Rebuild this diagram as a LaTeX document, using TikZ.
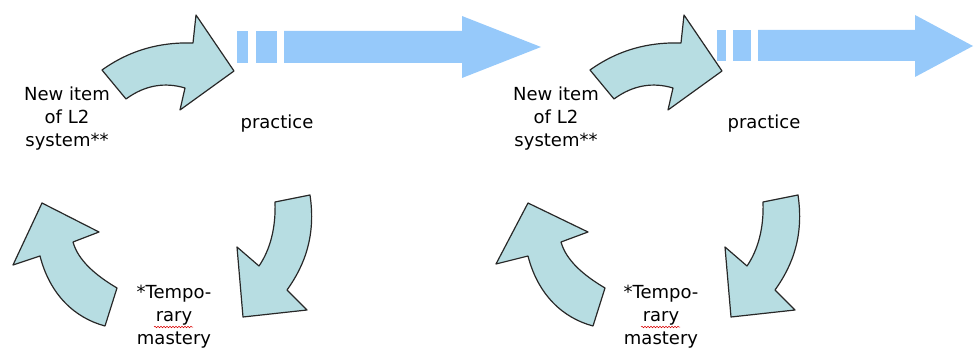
\documentclass[tikz,border=0pt]{standalone}
\usepackage{fontspec}
\setmainfont{DejaVu Sans}
\usetikzlibrary{decorations.pathmorphing}

\definecolor{curlfill}{RGB}{183,221,226}
\definecolor{curlline}{RGB}{40,40,40}
\definecolor{flowblue}{RGB}{150,201,250}

\begin{document}
\begin{tikzpicture}[x=1pt,y=-1pt,
    curl/.style={fill=curlfill,draw=curlline,line width=1.2pt,line join=round},
    flow/.style={fill=flowblue},
    squiggle/.style={draw=red!85!black,line width=0.5pt,decorate,
      decoration={snake,amplitude=0.8pt,segment length=3pt}}]

      \useasboundingbox (0,0) rectangle (975,350);

      % first cycle
      \begin{scope}
        \fill[flow] (237,31) rectangle (248,63);
        \fill[flow] (256,31) rectangle (277,63);
        \fill[flow] (284,31) -- (462,31) -- (462,16) -- (541,47) -- (462,78)
          -- (462,63) -- (284,63) -- cycle;

        \draw[curl] (102,70) .. controls (130,50) and (160,42) .. (193,43)
          -- (196,15) -- (234,71) -- (180,110) -- (185,88)
          .. controls (165,82) and (145,85) .. (126,99) -- cycle;
        \draw[curl] (105,326) .. controls (75,318) and (50,295) .. (40,256)
          -- (13,265) -- (42,203) -- (99,232) -- (73,242)
          .. controls (78,260) and (95,275) .. (117,288) -- cycle;
        \draw[curl] (275,202) -- (310,195)
          .. controls (316,235) and (305,265) .. (287,290)
          -- (307,310) -- (243,317) -- (237,247) -- (259,266)
          .. controls (270,250) and (276,228) .. (275,202) -- cycle;
      \end{scope}

      % second cycle
      \begin{scope}
        \fill[flow] (717,30) rectangle (726,61);
        \fill[flow] (733,30) rectangle (751,61);
        \fill[flow] (758,30) -- (915,30) -- (915,15) -- (973,46) -- (915,77)
          -- (915,61) -- (758,61) -- cycle;
      \end{scope}

      \begin{scope}[shift={(488,0)}]
        \draw[curl] (102,70) .. controls (130,50) and (160,42) .. (193,43)
          -- (196,15) -- (234,71) -- (180,110) -- (185,88)
          .. controls (165,82) and (145,85) .. (126,99) -- cycle;
        \draw[curl] (105,326) .. controls (75,318) and (50,295) .. (40,256)
          -- (8,264) -- (40,203) -- (100,232) -- (73,242)
          .. controls (78,260) and (95,275) .. (117,288) -- cycle;
        \draw[curl] (275,202) -- (310,195)
          .. controls (316,235) and (305,265) .. (287,290)
          -- (307,310) -- (243,317) -- (237,247) -- (259,266)
          .. controls (270,250) and (276,228) .. (275,202) -- cycle;
      \end{scope}

      \begin{scope}[every node/.style={align=center,inner sep=0pt,
          font=\fontsize{18}{23}\selectfont}]
        \node (new1)  at (67,119)  {New item\\of L2\\system**};
        \node (prac1) at (277,124) {practice};
        \node (temp1) at (174,317) {*Tempo-\\rary\\mastery};
        \node (new2)  at (556,119) {New item\\of L2\\system**};
        \node (prac2) at (764,124) {practice};
        \node (temp2) at (661,317) {*Tempo-\\rary\\mastery};
      \end{scope}

      \draw[squiggle] (154,327) -- (193,327);
      \draw[squiggle] (641,327) -- (680,327);

    \end{tikzpicture}
\end{document}
